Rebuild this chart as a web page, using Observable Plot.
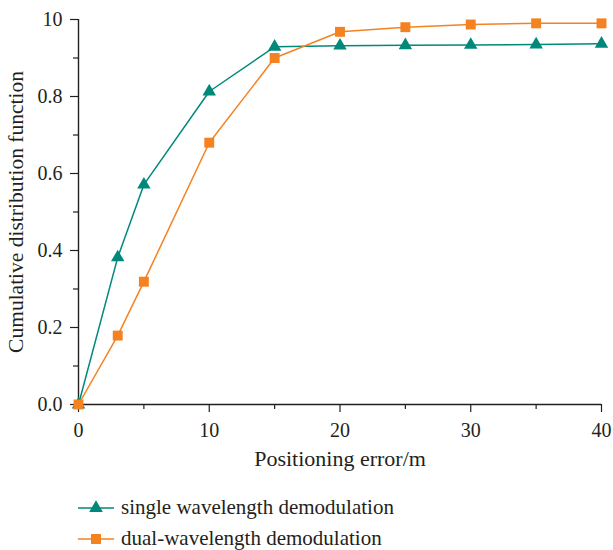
<!DOCTYPE html>
<html><head><meta charset="utf-8">
<script src="https://cdn.jsdelivr.net/npm/d3@7"></script>
<script src="https://cdn.jsdelivr.net/npm/@observablehq/plot@0.6"></script>
<style>
body{margin:0;background:#fff;font-family:"Liberation Serif",serif;color:#231f20;}
#legend{padding:12px 0 0 78px;}
.row{display:flex;align-items:center;height:31px;font-size:21px;}
.row svg{margin-right:7px;}
svg text{font-size:20px;}
svg g[aria-label="x-axis label"] text{font-size:22px;}
</style></head>
<body><div id="chart"></div><div id="legend"></div>
<script>
const xValues = [0, 3, 5, 10, 15, 20, 25, 30, 35, 40];
const singleValues = [0, 0.382, 0.571, 0.813, 0.929, 0.932, 0.933, 0.934, 0.935, 0.937];
const dualValues = [0, 0.179, 0.319, 0.68, 0.9, 0.968, 0.98, 0.987, 0.99, 0.99];
const seriesNames = ["single wavelength demodulation", "dual-wavelength demodulation"];
const seriesColors = ["#00897b", "#f58220"];
const yTicks = [0, 0.2, 0.4, 0.6, 0.8, 1.0];
const yTickLabels = ["0.0", "0.2", "0.4", "0.6", "0.8", "10"];
const yMinor = [0.1, 0.3, 0.5, 0.7, 0.9];
const xTicks = [0, 10, 20, 30, 40];
const xMinor = [5, 15, 25, 35];
const yLabel = "Cumulative distribution function";
const xLabel = "Positioning error/m";

const single = xValues.map((x, i) => ({x, y: singleValues[i]}));
const dual = xValues.map((x, i) => ({x, y: dualValues[i]}));
const ink = "#231f20";

const plot = Plot.plot({
  width: 613, height: 480,
  marginTop: 19, marginLeft: 78, marginRight: 12, marginBottom: 76,
  style: {fontFamily: "Liberation Serif, serif", fontSize: "20px", color: ink, background: "#fff"},
  x: {domain: [0, 40]},
  y: {domain: [0, 1]},
  marks: [
    Plot.axisY({ticks: yTicks, tickSize: 8, tickPadding: 8, stroke: ink, strokeWidth: 1.2,
      tickFormat: d => yTickLabels[yTicks.findIndex(t => Math.abs(t - d) < 1e-9)], label: null}),
    Plot.axisY({ticks: yMinor, tickSize: 5, tickFormat: () => "", stroke: ink, strokeWidth: 1.2, label: null}),
    Plot.text([yLabel], {text: d => d, frameAnchor: "left", rotate: -90, dx: -62, fontSize: 21.5, fill: ink, textAnchor: "middle"}),
    Plot.axisX({ticks: xTicks, tickSize: 8, tickPadding: 10, stroke: ink, strokeWidth: 1.2,
      label: xLabel, labelAnchor: "center", labelOffset: 61, labelArrow: "none"}),
    Plot.axisX({ticks: xMinor, tickSize: 5, tickFormat: () => "", stroke: ink, strokeWidth: 1.2, label: null}),
    Plot.ruleX([0], {stroke: ink, strokeWidth: 1.4}),
    Plot.ruleY([0], {stroke: ink, strokeWidth: 1.4}),
    Plot.line(single, {x: "x", y: "y", stroke: seriesColors[0], strokeWidth: 1.5}),
    Plot.line(dual, {x: "x", y: "y", stroke: seriesColors[1], strokeWidth: 1.5}),
    Plot.dot(single, {x: "x", y: "y", symbol: "triangle", r: 5, fill: seriesColors[0], stroke: "none"}),
    Plot.dot(dual, {x: "x", y: "y", symbol: "square", r: 5.6, fill: seriesColors[1], stroke: "none"})
  ]
});
document.getElementById("chart").append(plot);
plot.querySelectorAll('g[aria-label="text"] text').forEach(t => t.style.fontSize = "21.5px");

const legend = d3.select("#legend");
const symbols = [d3.symbolTriangle, d3.symbolSquare];
const sizes = [80, 100];
seriesNames.forEach((name, i) => {
  const row = legend.append("div").attr("class", "row");
  const svg = row.append("svg").attr("width", 36).attr("height", 20);
  svg.append("line").attr("x1", 0).attr("x2", 36).attr("y1", 10).attr("y2", 10)
    .attr("stroke", seriesColors[i]).attr("stroke-width", 1.5);
  svg.append("path").attr("d", d3.symbol(symbols[i], sizes[i])()).attr("transform", "translate(18,10)")
    .attr("fill", seriesColors[i]);
  row.append("span").text(name);
});
</script></body></html>
